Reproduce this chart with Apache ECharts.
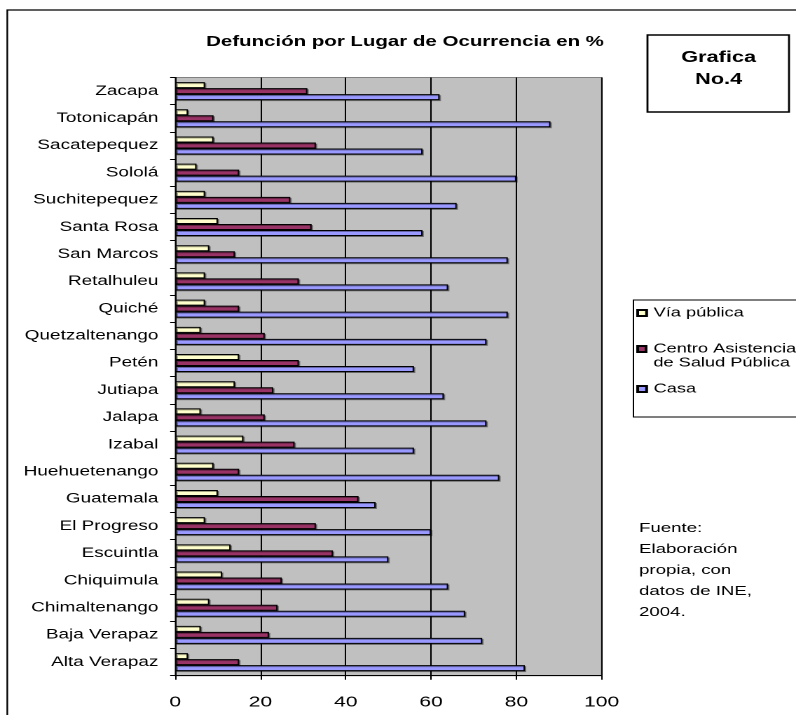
<!DOCTYPE html>
<html>
<head>
<meta charset="utf-8">
<script src="https://cdn.jsdelivr.net/npm/echarts@6/dist/echarts.min.js"></script>
<style>
  html, body { margin: 0; padding: 0; background: #fff; overflow: hidden; }
  #wrap { width: 796px; height: 715px; overflow: hidden; }
  /* the chart is laid out on a narrower canvas and widened horizontally */
  #chart { width: 568px; height: 715px; transform: scale(1.40141, 1); transform-origin: 0 0; }
</style>
</head>
<body>
<div id="wrap"><div id="chart"></div></div>
<script>
// Departamentos, listed from the bottom of the axis upwards
const departamentos = ['Alta Verapaz', 'Baja Verapaz', 'Chimaltenango', 'Chiquimula', 'Escuintla',
  'El Progreso', 'Guatemala', 'Huehuetenango', 'Izabal', 'Jalapa', 'Jutiapa', 'Petén',
  'Quetzaltenango', 'Quiché', 'Retalhuleu', 'San Marcos', 'Santa Rosa', 'Suchitepequez',
  'Sololá', 'Sacatepequez', 'Totonicapán', 'Zacapa'];

// Defunciones (%) por lugar de ocurrencia
const viaPublica = [3, 6, 8, 11, 13, 7, 10, 9, 16, 6, 14, 15, 6, 7, 7, 8, 10, 7, 5, 9, 3, 7];
const centroSalud = [15, 22, 24, 25, 37, 33, 43, 15, 28, 21, 23, 29, 21, 15, 29, 14, 32, 27, 15, 33, 9, 31];
const casa = [82, 72, 68, 64, 50, 60, 47, 76, 56, 73, 63, 56, 73, 78, 64, 78, 58, 66, 80, 58, 88, 62];

const xTicks = { min: 0, max: 100, interval: 20 };

const FONT = '"Liberation Sans", Arial, Helvetica, sans-serif';
const NAME_VIA = 'Vía pública';
const NAME_CENTRO = 'Centro Asistencia de Salud Pública';
const NAME_CASA = 'Casa';

const chart = echarts.init(document.getElementById('chart'), null, { devicePixelRatio: 2, renderer: 'canvas' });

function barSeries(name, data, color) {
  return {
    name: name,
    type: 'bar',
    data: data,
    barWidth: 6,
    barGap: '0%',
    barCategoryGap: '33%',
    itemStyle: {
      color: color,
      borderColor: '#000',
      borderWidth: 1,
      shadowColor: 'rgba(0,0,0,0.35)',
      shadowOffsetX: 1,
      shadowOffsetY: 1
    },
    emphasis: { disabled: true },
    animation: false
  };
}

// one legend block per series so each entry sits at its own height;
// the two-line entry keeps its key square beside the first line
function legendFor(name, top, twoLine) {
  return {
    data: [name],
    orient: 'vertical',
    left: 454,
    top: top,
    padding: 0,
    itemWidth: 6.4,
    itemHeight: twoLine ? 20 : 6,
    icon: twoLine ? 'path://M0,0H6V6H0Z M0,20L0.001,20' : 'rect',
    selectedMode: false,
    formatter: function (n) {
      return n === NAME_CENTRO ? 'Centro Asistencia\nde Salud Pública' : n;
    },
    textStyle: {
      fontFamily: FONT,
      fontSize: 13,
      lineHeight: 14,
      color: '#000'
    }
  };
}

chart.setOption({
  animation: false,
  backgroundColor: '#fff',
  grid: {
    left: 125,
    right: 568 - 429.3,
    top: 77.5,
    bottom: 715 - 675.7,
    show: true,
    backgroundColor: '#C0C0C0',
    borderColor: '#808080',
    borderWidth: 1,
    containLabel: false
  },
  legend: [
    legendFor(NAME_VIA, 306, false),
    legendFor(NAME_CENTRO, 342, true),
    legendFor(NAME_CASA, 382, false)
  ],
  xAxis: {
    type: 'value',
    min: xTicks.min,
    max: xTicks.max,
    interval: xTicks.interval,
    axisLine: { show: true, lineStyle: { color: '#000', width: 1 } },
    axisTick: { show: true, length: 4, lineStyle: { color: '#000' } },
    splitLine: { show: true, lineStyle: { color: '#000', width: 1 } },
    axisLabel: { color: '#000', fontFamily: FONT, fontSize: 15, margin: 19 }
  },
  yAxis: {
    type: 'category',
    data: departamentos,
    axisLine: { show: true, lineStyle: { color: '#000', width: 1 } },
    axisTick: { show: true, length: 3.6, lineStyle: { color: '#000' } },
    axisLabel: { color: '#000', fontFamily: FONT, fontSize: 13.5, margin: 12, interval: 0,
      padding: [4, 0, 0, 0] },
    splitLine: { show: false }
  },
  series: [
    barSeries(NAME_VIA, viaPublica, '#FFFFCC'),
    barSeries(NAME_CENTRO, centroSalud, '#993366'),
    barSeries(NAME_CASA, casa, '#9999FF')
  ],
  graphic: [
    // outer frame of the chart
    { type: 'rect', shape: { x: 5.2, y: 10, width: 800, height: 900 },
      style: { fill: 'none', stroke: '#000', lineWidth: 1.2 }, silent: true, z: 0 },
    // legend frame
    { type: 'rect', shape: { x: 452, y: 300, width: 300, height: 117 },
      style: { fill: '#fff', stroke: '#000', lineWidth: 1 }, silent: true, z: -1 },
    // chart number box
    { type: 'rect', shape: { x: 462, y: 35, width: 101, height: 77 },
      style: { fill: '#fff', stroke: '#000', lineWidth: 1.4 }, silent: true, z: 1 },
    { type: 'text', z: 2, silent: true,
      style: { text: 'Grafica\nNo.4', x: 512.8, y: 68.5, align: 'center', verticalAlign: 'middle',
        fontFamily: FONT, fontSize: 15.5, fontWeight: 'bold', lineHeight: 22, fill: '#000' } },
    // chart title
    { type: 'text', z: 2, silent: true,
      style: { text: 'Defunción por Lugar de Ocurrencia en %', x: 289, y: 42, align: 'center',
        verticalAlign: 'middle', fontFamily: FONT, fontSize: 14.6, fontWeight: 'bold', fill: '#000' } },
    // source note
    { type: 'text', z: 2, silent: true,
      style: { text: 'Fuente:\nElaboración\npropia, con\ndatos de INE,\n2004.', x: 456, y: 518,
        align: 'left', verticalAlign: 'top', fontFamily: FONT, fontSize: 13.3, lineHeight: 21, fill: '#000' } }
  ]
});
</script>
</body>
</html>
